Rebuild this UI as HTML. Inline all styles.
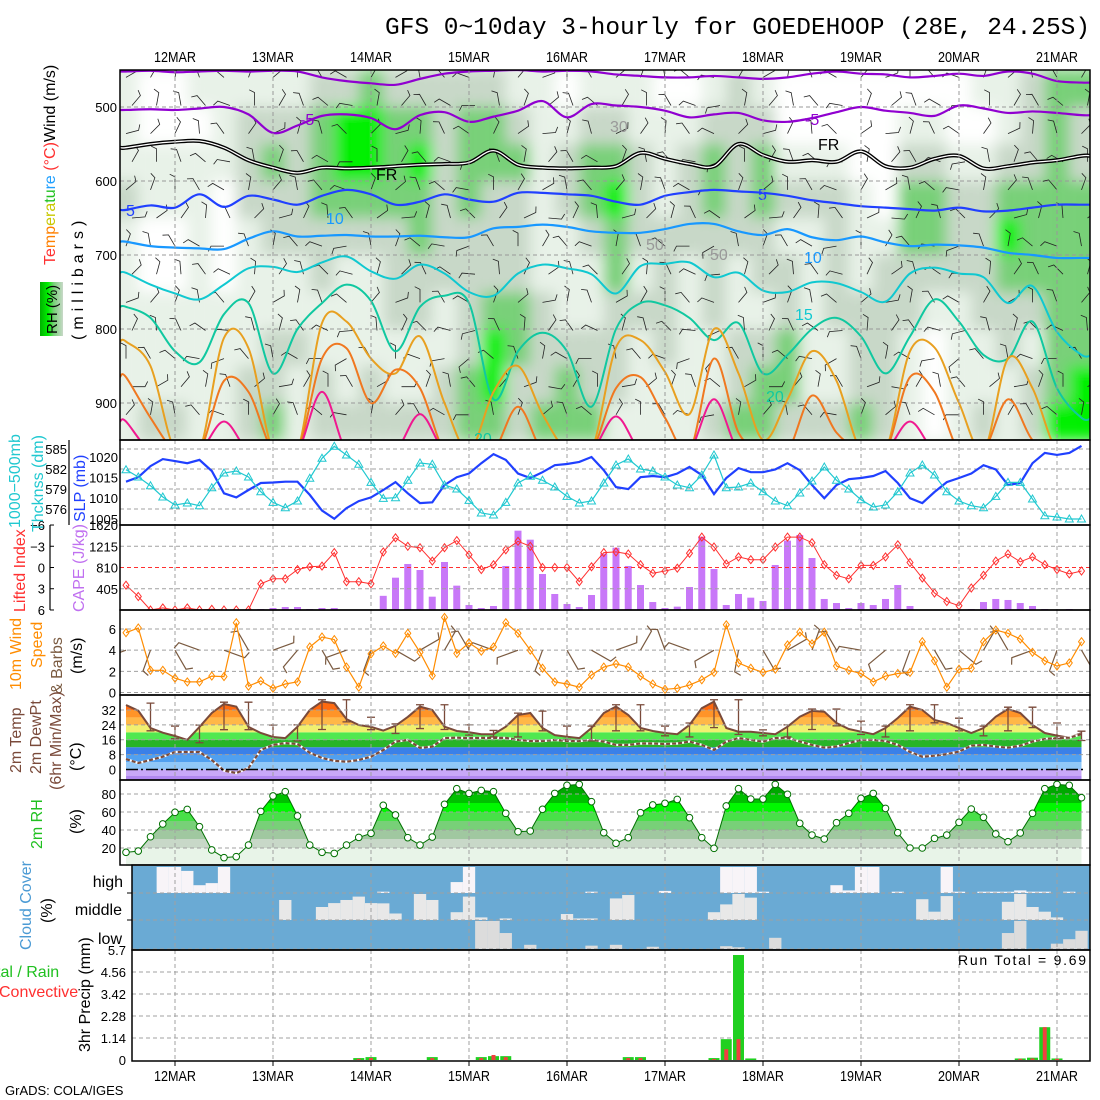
<!DOCTYPE html>
<html><head><meta charset="utf-8"><style>
html,body{margin:0;padding:0;background:#fff;}
svg{display:block;font-family:"Liberation Sans",sans-serif;}
</style></head><body>
<svg id="chart" width="1100" height="1100" viewBox="0 0 1100 1100" xmlns="http://www.w3.org/2000/svg">
<defs>
<clipPath id="clipUp"><rect x="120" y="70" width="970" height="370"/></clipPath>
<clipPath id="clipCape"><rect x="120" y="525" width="970" height="85"/></clipPath>
<clipPath id="clipWind"><rect x="120" y="610" width="970" height="85"/></clipPath>
<clipPath id="clipT"><rect x="120" y="695" width="970" height="85"/></clipPath>
<filter id="blur" x="-5%" y="-5%" width="110%" height="110%"><feGaussianBlur stdDeviation="7"/></filter>
<linearGradient id="rhLeg" x1="0" x2="1" y1="0" y2="0">
<stop offset="0" stop-color="#00b000"/><stop offset="0.35" stop-color="#00f000"/><stop offset="0.6" stop-color="#78d078"/><stop offset="1" stop-color="#c8d8c8"/></linearGradient>
</defs>
<text x="385" y="34" font-family="Liberation Mono, monospace" font-size="24" textLength="705" lengthAdjust="spacingAndGlyphs">GFS 0~10day 3-hourly for GOEDEHOOP (28E, 24.25S)</text>
<g id="gUp"></g>
<g id="gMain"></g>
<g id="gLab" font-size="15">
<g>
<text transform="translate(55,265) rotate(-90)" font-size="16"><tspan fill="#ff3030">Te</tspan><tspan fill="#ff8000">mp</tspan><tspan fill="#c8c800">era</tspan><tspan fill="#20c020">tu</tspan><tspan fill="#20a0ff">re</tspan><tspan fill="#ff3030"> (°C)</tspan><tspan fill="#000">Wind (m/s)</tspan></text>
<text transform="translate(83,340) rotate(-90)" font-size="16" letter-spacing="5">(millibars)</text>
<rect x="40" y="282" width="23" height="54" fill="url(#rhLeg)"/>
<text transform="translate(57,334) rotate(-90)" font-size="15">RH (%)</text>
</g>
<text transform="translate(20,528) rotate(-90)" fill="#20c8d0" font-size="16">1000−500mb</text>
<text transform="translate(43,532) rotate(-90)" fill="#20c8d0" font-size="16">Thcknss (dm)</text>
<text transform="translate(85,522) rotate(-90)" fill="#2040ff" font-size="16">SLP (mb)</text>
<line x1="69" y1="440" x2="69" y2="525" stroke="#000" stroke-width="1.2"/>
<text transform="translate(25,612) rotate(-90)" fill="#ff3030" font-size="16">Lifted Index</text>
<line x1="50" y1="525" x2="50" y2="610" stroke="#000" stroke-width="1.2"/>
<text transform="translate(84,612) rotate(-90)" fill="#c070f0" font-size="16">CAPE (J/kg)</text>
<text transform="translate(21,690) rotate(-90)" fill="#ff8c00" font-size="16">10m Wind</text>
<text transform="translate(42,668) rotate(-90)" fill="#ff8c00" font-size="16">Speed</text>
<text transform="translate(62,694) rotate(-90)" fill="#7a5a40" font-size="16">&amp; Barbs</text>
<text transform="translate(82,674) rotate(-90)" font-size="16">(m/s)</text>
<text transform="translate(21,773) rotate(-90)" fill="#7a4a3a" font-size="16">2m Temp</text>
<text transform="translate(41,774) rotate(-90)" fill="#7a4a3a" font-size="16">2m DewPt</text>
<text transform="translate(61,790) rotate(-90)" fill="#7a4a3a" font-size="16">(6hr Min/Max)</text>
<text transform="translate(81,771) rotate(-90)" font-size="16">(°C)</text>
<text transform="translate(42,849) rotate(-90)" fill="#20c020" font-size="16">2m RH</text>
<text transform="translate(81,834) rotate(-90)" font-size="16">(%)</text>
<text transform="translate(31,950) rotate(-90)" fill="#4a9ad4" font-size="16">Cloud Cover</text>
<text transform="translate(52,923) rotate(-90)" font-size="16">(%)</text>
<text x="123" y="887" text-anchor="end" font-size="16">high</text>
<text x="122" y="915" text-anchor="end" font-size="16">middle</text>
<text x="122" y="944" text-anchor="end" font-size="16">low</text>
<text x="-4" y="977" fill="#20c020" font-size="16">tal / Rain</text>
<text x="-1" y="997" fill="#ff3030" font-size="16">Convective</text>
<text transform="translate(90,1052) rotate(-90)" font-size="16">3hr Precip (mm)</text>
<text x="958" y="965" font-size="14" textLength="128">Run Total = 9.69</text>
<text x="5" y="1095" font-size="13">GrADS: COLA/IGES</text>
</g>
</svg>
<script>
// ---------- data (3-hourly, 79 steps) ----------
const dayLabels = ["12MAR","13MAR","14MAR","15MAR","16MAR","17MAR","18MAR","19MAR","20MAR","21MAR"];
const slp = [1014,1015.1,1017.8,1019.5,1019,1018.5,1019.3,1016.6,1011.2,1010.2,1012,1013.7,1013.8,1014,1014,1010.8,1007,1005,1007.6,1009.3,1010.2,1012,1013.9,1011.2,1008.8,1009,1013.2,1015.1,1016,1018.5,1020.7,1019.3,1016,1014.9,1016.3,1018,1018.3,1018.8,1020,1016.8,1012.7,1012.2,1015.1,1015.4,1015.1,1016,1017.6,1015.6,1011,1014.9,1017.3,1016.3,1016.3,1017,1018.5,1016.8,1013.2,1010,1013.2,1014.6,1014.9,1015.4,1016.6,1013.7,1010,1008.8,1011.5,1013.9,1014.9,1016,1018,1017,1013.2,1013.7,1018.5,1021,1020.5,1021,1022.7];
const thick = [581.9,580.8,579.5,577.8,576.6,576.9,576.5,579.2,581.4,581.7,580.8,578.6,577,576.2,577.2,580.6,583.6,585.4,584.1,582.7,580,577.6,577.7,580.3,582.9,582.7,579.6,579,577.3,575.4,575.1,577,579.9,580.9,580.3,579.3,577.9,576.9,577.2,579.9,582.6,583.5,582,581.7,580.8,579.6,579.2,581.1,584.1,579.2,579.3,579.9,578.6,577.2,576.5,578.4,580.2,582.3,580.3,579,577.4,576.3,576.6,578.6,581.4,582.6,581.1,578.6,577.2,576.5,576.2,577.9,580,580,577.5,575,574.8,574.5,574.5];
const liftedIndex = [2.5,4.1,7,5.7,7,5.7,7,5.9,7,7,7,2.3,1.6,1.6,0.3,-0.1,-0.2,-2.1,2,2,2.3,-2.2,-4.2,-3,-2.8,-0.9,-2.8,-3.8,-1.8,0.3,-0.4,-2.5,-3.7,-3,0,0,0,2,-0.1,-2.1,-2.2,-1.9,-0.4,0.8,0.5,0.1,-2,-4.3,-2.9,-0.5,-1.5,-1.1,-1.1,-2.9,-4.3,-4.3,-3.5,-0.4,1.1,1.6,-0.3,-0.3,-1.5,-3.2,-0.7,1.5,3.6,4.8,5.4,2.9,1.1,-0.9,-1.9,-0.8,-1.5,-0.4,0.3,0.9,0.5];
const cape = [0,0,0,0,0,0,0,0,0,0,0,19,38,57,57,19,38,38,0,0,0,270,616,877,762,254,915,464,95,38,76,839,1512,1340,686,305,114,57,286,1074,1188,839,476,152,38,64,438,1398,781,95,305,235,172,858,1322,1430,991,210,133,38,133,95,210,476,76,0,0,0,0,19,152,210,191,133,76,19,0,19,0];
const windSpeed = [5.65,6.1,2.1,2.1,1.35,1,1,1.55,1.5,6.6,0.6,1.1,0.4,0.8,1,4.3,5.25,5,2.4,0.5,3.65,4.4,3.7,5.6,3.8,1.6,7.1,3.7,4.7,3.9,4.3,6.6,5.6,4,2.3,1,0.8,0.5,1.65,2.4,2.7,2.4,1.55,0.8,0.3,0.4,0.7,1.2,1.9,6.4,2.8,2.3,1.9,2.2,4.5,5.7,4.6,5.7,2.5,2.1,1.8,1,1.55,1.8,1.9,4.8,3,0.5,2.2,2.3,4.8,5.9,5.6,5.05,3.8,3,2.5,2.8,4.8];
const windDir10 = [200,250,300,160,340,120,20,230,300,200,250,330,30,60,120,160,200,250,300,330,20,60,110,160,210,260,300,30,70,120,170,220,250,300,320,60,120,200,250,300];
const temp2m = [34.7,31.6,22.3,19.8,18,15.9,22.9,30.4,35.2,33.8,22.9,19.6,17.5,16.9,23,32,36.5,35.7,27.1,23.9,22.9,20.9,23.5,28.3,33.8,32,23,20.7,20,19,19,23,29.3,30.4,22.3,18.5,17.6,16.9,22.3,30.4,33.8,29.3,22.3,20.7,19.6,19,24,33,36.5,22.3,20.3,20.3,19.6,19,23,28.4,31.5,31.1,25,21.8,20.3,19,22.3,27.7,33.8,32,26.6,25,22.3,19.6,22.3,28.4,32.5,30.4,24,19.6,18.2,17.1,19.6];
const dewpt2m = [5.6,3.5,5.1,6.9,9.4,9.4,9.4,5.1,-0.6,-1.9,0.8,10.5,13.2,14.2,13.7,9,6.2,4.7,4.2,5.1,6.9,10.5,15,15.9,11.6,12.3,16.9,17.1,16.9,17,17,17,15.9,15.3,15.3,15.9,15.3,15.3,15.9,15,13.2,13.2,14,14,13.7,14,15,13.2,10.5,15,16.9,15.9,15,16.9,17.1,15,13.2,11.7,12.3,14.2,15.9,15.9,15.3,13.2,9.4,6.9,7.4,8.3,9.6,12.8,13.2,12.3,11.7,12.8,15,16.4,16.9,17.1,19];
const rh2m = [15.2,16.6,32.5,46.7,59.6,62.9,43.7,17.8,9.3,10.4,23.3,60.7,77.8,82.6,55.6,23.3,15.2,14,23.3,31.8,36.3,67.4,56.7,31.5,23.3,32.2,68.5,85.9,80.7,84,82.6,58.5,38.1,38.9,63,80.7,89.6,90.7,71.5,37,25.2,31.5,59.2,67.8,69.6,74,53.7,31.5,19.6,66.7,85.9,74.4,74.4,90.7,79.6,47.4,34.4,30,48.1,58.5,75.2,80.7,64,37,20,20,30.7,34.4,48.5,63.3,54.1,35.6,27,36.7,58.5,85.9,90.7,89.6,75.9];
const cloudHigh = [0,0,0,1,1,.85,.3,.38,1,0,0,0,0,0,0,0,0,0,0,0,0,.05,0,0,0,0,0,.42,1,0,0,0,0,0,0,0,0,0,.05,0,0,0,0,0,.08,0,0,0,0,1,1,1,.05,0,0,0,0,0,.3,.1,1,1,0,.05,0,0,0,1,.05,0,.05,.05,.05,.1,.05,.05,0,.05,0];
const cloudMid = [0,0,0,0,0,0,0,0,0,0,0,0,0,.77,0,0,.5,.65,.77,.9,.65,.64,.25,0,1,.77,0,.3,.9,.1,0,.06,0,0,0,0,.23,.06,.06,0,.83,.96,0,0,0,0,0,0,.3,.6,1,.86,0,0,0,0,0,0,0,0,0,0,0,0,0,.8,.32,.92,0,0,0,0,.7,1,.5,.32,.1,0,0];
const cloudLow = [0,0,0,0,0,0,0,0,0,0,0,0,0,0,0,0,0,0,0,0,0,0,0,0,0,0,0,0,0,1,1,.57,0,.15,0,0,0,0,.12,0,.15,0,0,.08,0,0,0,0,0,.1,.06,0,0,.4,0,0,0,0,0,0,0,0,0,0,0,0,0,0,0,0,0,0,.57,1,0,0,.19,.35,.65];
const precipTotal = [0,0,0,0,0,0,0,0,0,0,0,0,0,0,0,0,0,0,0,.1,.15,0,0,0,0,.15,0,0,0,.15,.2,.2,0,0,0,0,0,0,0,0,0,.15,.15,0,0,0,0,0,.1,1.08,5.44,.08,0,0,0,0,0,0,0,0,0,0,0,0,0,0,0,0,0,0,0,0,0,.08,.12,1.7,.08,0,0];
const precipConv = [0,0,0,0,0,0,0,0,0,0,0,0,0,0,0,0,0,0,0,.06,.1,0,0,0,0,.1,0,0,0,.1,.26,.15,0,0,0,0,0,0,0,0,0,.1,.1,0,0,0,0,0,.05,.56,1.08,0,0,0,0,0,0,0,0,0,0,0,0,0,0,0,0,0,0,0,0,0,0,.06,.08,1.7,.06,0,0];
// upper-air (every 6 h, 40 columns)
const rhLevels = [475,525,575,625,675,725,775,825,875,925];
const rhGrid = [
[1,1,1,2,1,1,1,1,1,1],[0,0,1,1,0,0,1,1,1,2],[0,0,1,1,0,0,1,1,1,2],[1,0,1,1,1,1,1,1,1,1],[1,1,1,0,0,0,1,1,1,1],
[1,2,2,2,1,1,1,1,2,2],[1,2,3,2,2,1,1,2,2,3],[1,2,2,2,2,1,1,2,1,1],[2,3,3,3,2,2,1,1,2,2],[2,4,4,3,2,1,1,1,1,2],
[3,4,4,3,2,1,1,1,2,2],[2,3,3,3,2,2,2,1,1,2],[2,3,4,3,3,2,2,1,1,2],[2,2,2,2,2,2,1,1,2,2],[2,3,3,3,2,2,2,2,3,3],
[2,3,3,2,2,2,3,4,4,3],[1,2,3,2,2,2,3,3,2,2],[1,1,1,1,1,1,2,2,2,3],[0,1,2,2,1,1,1,2,3,3],[1,2,3,3,2,1,1,2,2,3],
[1,2,3,4,3,3,2,2,2,1],[1,1,2,2,2,1,2,1,1,1],[0,1,1,1,2,2,2,2,1,1],[0,1,2,2,2,1,1,1,1,1],[1,2,3,3,2,2,2,1,1,2],
[2,2,2,2,2,1,1,2,2,3],[1,2,3,3,2,2,1,2,3,3],[0,0,1,2,1,2,2,3,3,2],[0,0,1,2,1,1,1,1,1,2],[0,0,1,2,2,2,2,1,1,2],
[0,0,0,1,1,1,2,2,2,3],[0,0,0,0,1,2,2,2,2,2],[0,1,2,3,3,2,2,1,1,1],[0,1,2,3,3,2,1,0,0,0],[0,0,1,2,2,2,1,1,1,1],
[1,0,1,2,2,2,2,1,1,2],[1,1,2,3,4,3,2,2,1,1],[2,2,2,3,3,3,2,1,2,2],[3,3,3,3,3,3,3,3,3,4],[3,2,2,3,3,3,3,3,4,4]];
const isoM10 = [452,451,453,452,451,452,451,452,460,465,468,470,462,455,452,451,450,452,451,452,456,458,460,460,458,460,462,460,455,452,455,456,460,458,455,458,452,455,465,467];
const isoM5 = [504,503,504,502,500,510,535,525,512,510,515,530,511,507,520,513,505,492,514,496,498,500,505,514,510,508,518,520,515,507,500,505,508,512,498,502,508,506,508,511];
const isoFR = [555,550,547,546,555,572,582,589,582,583,582,580,578,577,575,559,578,582,583,582,580,562,570,577,580,550,565,574,572,574,560,580,582,570,566,583,580,575,572,566];
const iso5 = [639,633,636,618,635,620,625,632,620,612,618,632,628,618,625,628,616,616,618,620,628,632,620,615,612,614,616,620,626,630,634,636,638,640,636,641,640,636,632,632];
const iso10 = [682,688,690,691,692,678,668,675,674,673,675,675,674,676,676,664,662,659,662,668,670,670,665,658,658,668,673,665,676,680,675,683,688,686,687,690,697,700,704,704];
const iso15 = [724,740,752,760,740,718,716,723,710,702,722,732,713,725,750,755,725,713,718,726,752,715,712,710,730,724,748,750,737,738,750,763,725,717,725,730,765,742,804,835];
const iso20 = [770,785,830,845,780,765,860,800,765,740,762,830,770,755,765,895,830,805,830,905,800,765,768,785,815,792,860,835,800,785,810,860,810,760,790,835,840,790,880,920];
const iso25 = [817,850,965,965,812,826,965,965,792,790,840,860,810,900,965,885,850,915,965,965,825,815,858,915,800,860,950,895,830,870,965,965,830,825,900,965,840,880,965,965];
const iso30 = [865,920,965,965,870,885,965,965,840,826,900,855,880,965,965,965,905,965,965,965,880,865,920,965,840,940,965,965,890,940,965,965,865,885,965,965,895,950,965,965];
const iso35 = [925,965,965,965,925,965,965,965,885,965,965,965,915,965,965,965,965,965,965,965,918,965,965,965,895,965,965,965,965,965,965,965,925,965,965,965,965,965,965,965];
const barbColDir = [30,60,80,110,140,70,40,90,120,150,60,30,100,130,160,80,50,20,90,120,40,70,100,140,170,60,30,80,110,150,50,20,90,130,160,70,40,100,120,60];
const barbRowDir = [0,20,-15,30,10,-25,40,15,-10,35,60,-30,20];

// ---------- scales ----------
const NS = "http://www.w3.org/2000/svg";
const X = i => 126 + 12.25 * i;
const XK = k => 126 + 24.5 * k;
const dayX = d => 175 + 98 * d;
const yP = p => 70 + (p - 450) * 0.74;
const ySLP = v => 457 + (1020 - v) * 4.12;
const yTh = v => 449 + (585 - v) * 6.67;
const yCape = v => 610 - v * 85 / 1620;
const yLI = v => 567.5 + Math.min(v, 6) * 7.08;
const yW = v => 692.5 - v * 10.58;
const yT = v => 769.5 - v * 1.86;
const yRH = v => 866 - v * 0.9;
const yPr = v => 1060 - v * 19.3;

function mk(tag, attrs, parent) {
  const el = document.createElementNS(NS, tag);
  for (const k in attrs) el.setAttribute(k, attrs[k]);
  parent.appendChild(el);
  return el;
}
function smooth(pts) {
  let d = "M" + pts[0][0] + "," + pts[0][1];
  for (let i = 0; i < pts.length - 1; i++) {
    const p0 = pts[Math.max(0, i - 1)], p1 = pts[i], p2 = pts[i + 1], p3 = pts[Math.min(pts.length - 1, i + 2)];
    d += " C" + (p1[0] + (p2[0] - p0[0]) / 6) + "," + (p1[1] + (p2[1] - p0[1]) / 6) + " " + (p2[0] - (p3[0] - p1[0]) / 6) + "," + (p2[1] - (p3[1] - p1[1]) / 6) + " " + p2[0] + "," + p2[1];
  }
  return d;
}
const poly = arr => arr.map(p => p[0].toFixed(1) + "," + p[1].toFixed(1)).join(" ");
const gUp = document.getElementById("gUp");
const gM = document.getElementById("gMain");

// ---------- upper-air panel ----------
const upClip = mk("g", {"clip-path": "url(#clipUp)"}, gUp);
const upBg = mk("rect", {x: 120, y: 70, width: 970, height: 370, fill: "#e8f2e8"}, upClip);


const rhColors = ["#ffffff", "#e8f2e8", "#c8d8c8", "#78d078", "#00f000", "#00b000"];
const heat = mk("g", {filter: "url(#blur)"}, upClip);


rhGrid.forEach((col, k) => {
  col.forEach((v, r) => {
    const c = mk("rect", {x: (XK(k) - 12.25 - (k === 0 ? 10 : 0)).toFixed(1), y: yP(rhLevels[r] - 25).toFixed(1), width: 24.6 + (k === 0 ? 10 : 0) + (k === 39 ? 12 : 0), height: 37.2, fill: rhColors[v]}, heat);
    
    
  });
});
// grid
[500, 600, 700, 800, 900].forEach(p => {
  const l = mk("line", {x1: 120, x2: 1090, y1: yP(p), y2: yP(p), stroke: "#999", "stroke-dasharray": "4,3"}, upClip);
  
  
});
// barbs
const barbG = mk("g", {stroke: "#222", "stroke-width": 0.8, fill: "none"}, upClip);


barbRowDir.forEach((rd, r) => {
  barbColDir.forEach((cd, k) => {
    const x = XK(k) + (r % 2) * 6, y = yP(460 + r * 38);
    const a = (cd + rd) * Math.PI / 180;
    const x2 = x + 13 * Math.cos(a), y2 = y - 13 * Math.sin(a);
    const b = a + 1.1;
    const p = mk("path", {d: "M" + x.toFixed(1) + "," + y.toFixed(1) + " L" + x2.toFixed(1) + "," + y2.toFixed(1) + " l" + (6 * Math.cos(b)).toFixed(1) + "," + (-6 * Math.sin(b)).toFixed(1)}, barbG);
    
    
  });
});
// isotherms
function iso(arr, color, w, name) {
  const pts = arr.map((p, k) => [XK(k), yP(p)]);
  pts.unshift([120, pts[0][1]]);
  pts.push([1092, pts[pts.length - 1][1]]);
  const d = smooth(pts);
  if (name === "isotherm-freezing") {
    const a = mk("path", {d: d, fill: "none", stroke: "#000", "stroke-width": 4}, upClip);
    
    
    const b = mk("path", {d: d, fill: "none", stroke: "#fff", "stroke-width": 1.3}, upClip);
    
    
    return;
  }
  const e = mk("path", {d: d, fill: "none", stroke: color, "stroke-width": w}, upClip);
  
  
}
iso(isoM10, "#9000d0", 2.2, "isotherm-minus10");
iso(isoM5, "#9000d0", 2.2, "isotherm-minus5");
iso(isoFR, "#000", 2, "isotherm-freezing");
iso(iso5, "#2040ff", 2.2, "isotherm-5");
iso(iso10, "#1898ff", 2.2, "isotherm-10");
iso(iso15, "#10c8d0", 2, "isotherm-15");
iso(iso20, "#10c8a0", 2, "isotherm-20");
iso(iso25, "#e8a020", 2, "isotherm-25");
iso(iso30, "#f07820", 2, "isotherm-30");
iso(iso35, "#f01890", 2, "isotherm-35");
[["-5", 300, 125, "#9000d0"], ["-5", 805, 125, "#9000d0"], ["FR", 376, 180, "#000"], ["FR", 818, 150, "#000"], ["5", 126, 216, "#2040ff"], ["5", 758, 200, "#2040ff"], ["10", 326, 224, "#1898ff"], ["10", 804, 263, "#1898ff"], ["15", 795, 320, "#10c8d0"], ["20", 474, 444, "#10c8a0"], ["20", 766, 402, "#10c8a0"], ["30", 610, 132, "#999"], ["50", 646, 250, "#999"], ["50", 710, 260, "#999"]].forEach(t => {
  const e = mk("text", {x: t[1], y: t[2], fill: t[3], "font-size": 16}, upClip);
  e.textContent = t[0];
  
  
});
// pressure labels
[500, 600, 700, 800, 900].forEach(p => {
  const t = mk("text", {x: 117, y: yP(p) + 5, "text-anchor": "end", "font-size": 13}, gUp);
  t.textContent = p;
  
  
});

// ---------- generic helpers for panels ----------
function hgrid(ys, x1, color) {
  ys.forEach(y => {
    const l = mk("line", {x1: x1, x2: 1090, y1: y, y2: y, stroke: color || "#a0a0a0", "stroke-dasharray": "4,3"}, gM);
    
    
  });
}
function vgrid(y1, y2, x1) {
  dayLabels.forEach((d, j) => {
    const l = mk("line", {x1: dayX(j), x2: dayX(j), y1: y1, y2: y2, stroke: "#a0a0a0", "stroke-dasharray": "4,3"}, gM);
    
    
  });
}
function ticks(vals, yf, x, fmt, color) {
  vals.forEach(v => {
    const t = mk("text", {x: x, y: yf(v) + 5, "text-anchor": "end", "font-size": 13, fill: color || "#000"}, gM);
    t.textContent = fmt ? fmt(v) : v;
    
    
  });
}
function line(vals, xf, yf, color, w, name) {
  const e = mk("polyline", {points: poly(vals.map((v, i) => [xf(i), yf(v)])), fill: "none", stroke: color, "stroke-width": w}, gM);
  
  
  return e;
}

// upper panel vertical grid & frame
dayLabels.forEach((d, j) => {
  const l = mk("line", {x1: dayX(j), x2: dayX(j), y1: 70, y2: 440, stroke: "#999", "stroke-dasharray": "4,3"}, upClip);
  
  
});

// ---------- SLP / thickness ----------
hgrid([585, 582, 579, 576].map(yTh), 120);
vgrid(440, 525);
ticks([585, 582, 579, 576], yTh, 67);
ticks([1020, 1015, 1010, 1005], ySLP, 118);
line(slp, X, ySLP, "#2040ff", 2.2, "slp-line");
line(thick, X, yTh, "#20c8d0", 1.2, "thickness-line");
thick.forEach((v, i) => {
  const x = X(i), y = yTh(v);
  const m = mk("polygon", {points: poly([[x, y - 4], [x - 4, y + 3], [x + 4, y + 3]]), fill: "none", stroke: "#20c8d0", "stroke-width": 1}, gM);
  
  
});

// ---------- CAPE / LI ----------
const capeG = mk("g", {"clip-path": "url(#clipCape)"}, gM);


cape.forEach((v, i) => {
  if (v <= 0) return;
  const b = mk("rect", {x: X(i) - 3.5, y: yCape(v), width: 7, height: 610 - yCape(v), fill: "#c878f8"}, capeG);
  
  
});
hgrid([405, 1215].map(yCape), 120);
hgrid([yCape(810)], 120, "#ff3030");
vgrid(525, 610);
ticks([1620, 1215, 810, 405], yCape, 118);
ticks([-6, -3, 0, 3, 6], v => 567.5 + v * 7.08, 45, v => v < 0 ? "−" + (-v) : v);
[-6, -3, 0, 3, 6].forEach(v => {
  const t = mk("line", {x1: 50, x2: 54, y1: 567.5 + v * 7.08, y2: 567.5 + v * 7.08, stroke: "#000"}, gM);
  
  
});
const liL = mk("polyline", {points: poly(liftedIndex.map((v, i) => [X(i), yLI(v)])), fill: "none", stroke: "#ff3030", "stroke-width": 1}, capeG);


liftedIndex.forEach((v, i) => {
  const x = X(i), y = yLI(v);
  const m = mk("polygon", {points: poly([[x, y - 4], [x + 3, y], [x, y + 4], [x - 3, y]]), fill: "none", stroke: "#ff3030"}, capeG);
  
  
});

// ---------- 10m wind ----------
hgrid([0, 2, 4, 6].map(yW), 120);
vgrid(610, 695);
ticks([0, 2, 4, 6], yW, 116);
const wG = mk("g", {"clip-path": "url(#clipWind)"}, gM);


windDir10.forEach((dg, k) => {
  const x = X(2 * k), y = yW(4), a = dg * Math.PI / 180;
  const x2 = x + 22 * Math.cos(a), y2 = y - 22 * Math.sin(a);
  const p = mk("path", {d: "M" + x.toFixed(1) + "," + y.toFixed(1) + " L" + x2.toFixed(1) + "," + y2.toFixed(1) + " l" + (7 * Math.cos(a + 1.2)).toFixed(1) + "," + (-7 * Math.sin(a + 1.2)).toFixed(1), stroke: "#7a5a40", fill: "none", "stroke-width": 1.2}, wG);
  
  
});
const wl = mk("polyline", {points: poly(windSpeed.map((v, i) => [X(i), yW(v)])), fill: "none", stroke: "#ff8c00", "stroke-width": 1.2}, wG);


windSpeed.forEach((v, i) => {
  const x = X(i), y = yW(v);
  const m = mk("polygon", {points: poly([[x, y - 4], [x + 3, y], [x, y + 4], [x - 3, y]]), fill: "none", stroke: "#ff8c00"}, wG);
  
  
});

// ---------- 2m temperature ----------
const tG = mk("g", {"clip-path": "url(#clipT)"}, gM);


const cpT = mk("clipPath", {id: "underT"}, document.querySelector("defs"));
mk("polygon", {points: poly([[X(0), 781]].concat(temp2m.map((v, i) => [X(i), yT(v)])).concat([[X(78), 781]]))}, cpT);
const bandG = mk("g", {"clip-path": "url(#underT)"}, tG);


const tBands = [[-10, 0, "#c8a8f8"], [0, 4, "#90c8f8"], [4, 8, "#50a0f0"], [8, 12, "#3a80e8"], [12, 16, "#28b428"], [16, 20, "#50e850"], [20, 24, "#f0f070"], [24, 28, "#ffb848"], [28, 32, "#ff9428"], [32, 36, "#ff6a10"], [36, 45, "#e83000"]];
tBands.forEach(b => {
  const r = mk("rect", {x: 120, width: 970, y: yT(b[1]), height: yT(b[0]) - yT(b[1]), fill: b[2]}, bandG);
  
  
});
const pb = mk("rect", {x: 120, y: 776, width: 970, height: 4, fill: "#b088f0"}, bandG);


hgrid([8, 16, 24, 32].map(yT), 120);
const zl = mk("line", {x1: 126, x2: 1083, y1: yT(0), y2: yT(0), stroke: "#000", "stroke-width": 1.5, "stroke-dasharray": "12,3,2,3"}, gM);


vgrid(695, 780);
ticks([0, 8, 16, 24, 32], yT, 116);
const tl = mk("polyline", {points: poly(temp2m.map((v, i) => [X(i), yT(v)])), fill: "none", stroke: "#7a4a3a", "stroke-width": 2}, tG);


const dl = mk("polyline", {points: poly(dewpt2m.map((v, i) => [X(i), yT(v)])), fill: "none", stroke: "#fff", "stroke-width": 2.4}, tG);


const dl2 = mk("polyline", {points: poly(dewpt2m.map((v, i) => [X(i), yT(v)])), fill: "none", stroke: "#7a4a3a", "stroke-width": 2.2, "stroke-dasharray": "4,2"}, tG);


for (let i = 2; i < 79; i += 2) {
  const w = temp2m.slice(i - 2, i + 1);
  const hi = Math.max(...w) + 1, lo = Math.min(...w) - 1.5;
  const e = mk("path", {d: "M" + (X(i) - 4) + "," + yT(hi) + " h8 M" + X(i) + "," + yT(hi) + " V" + yT(lo) + " M" + (X(i) - 4) + "," + yT(lo) + " h8", stroke: "#7a4a3a", fill: "none", "stroke-width": 1.3}, tG);
  
  
}

// ---------- 2m RH ----------
const cpR = mk("clipPath", {id: "underR"}, document.querySelector("defs"));
mk("polygon", {points: poly([[X(0), 866]].concat(rh2m.map((v, i) => [X(i), yRH(v)])).concat([[X(78), 866]]))}, cpR);
const rG = mk("g", {"clip-path": "url(#underR)"}, gM);


[[0, 20, "#e8f4e8"], [20, 30, "#c8d8c8"], [30, 40, "#a0c8a0"], [40, 50, "#78d078"], [50, 60, "#48e048"], [60, 70, "#00f800"], [70, 80, "#00c000"], [80, 90, "#00a800"], [90, 100, "#008c00"]].forEach(b => {
  const r = mk("rect", {x: 120, width: 970, y: yRH(b[1]), height: yRH(b[0]) - yRH(b[1]), fill: b[2]}, rG);
  
  
});
hgrid([20, 40, 60, 80].map(yRH), 120);
vgrid(780, 865);
ticks([20, 40, 60, 80], yRH, 116);
line(rh2m, X, yRH, "#007000", 1, "rh-line");
rh2m.forEach((v, i) => {
  const c = mk("circle", {cx: X(i), cy: yRH(v), r: 3.3, fill: "#fff", stroke: "#007000"}, gM);
  
  
});

// ---------- cloud cover ----------
const cbg = mk("rect", {x: 132, y: 866, width: 958, height: 84, fill: "#6aaad4"}, gM);


[[cloudHigh, 867, 893, "#f8f4f8", "cloud-high-bar"], [cloudMid, 894, 920, "#e8e8e8", "cloud-mid-bar"], [cloudLow, 921, 949, "#dcdcdc", "cloud-low-bar"]].forEach(layer => {
  layer[0].forEach((v, i) => {
    if (v <= 0) return;
    const h = (layer[2] - layer[1]) * v;
    const r = mk("rect", {x: Math.max(132, X(i) - 6.125), y: layer[2] - h, width: 12.3, height: h, fill: layer[3]}, gM);
    
    
  });
});
hgrid([893, 920], 132);
vgrid(866, 950);
[893, 920].forEach(y => {
  const t = mk("line", {x1: 127, x2: 132, y1: y, y2: y, stroke: "#000"}, gM);
  
  
});

// ---------- precipitation ----------
hgrid([1.14, 2.28, 3.42, 4.56].map(yPr), 132);
hgrid([949], 132);
vgrid(950, 1060);
ticks([0, 1.14, 2.28, 3.42, 4.56, 5.7], yPr, 126);
precipTotal.forEach((v, i) => {
  if (v <= 0) return;
  const r = mk("rect", {x: X(i) - 5.5, y: yPr(v), width: 11, height: 1060 - yPr(v), fill: "#20d020"}, gM);
  
  
});
precipConv.forEach((v, i) => {
  if (v <= 0) return;
  const r = mk("rect", {x: X(i) - 2, y: yPr(v), width: 4, height: 1060 - yPr(v), fill: "#f04040"}, gM);
  
  
});

// ---------- frames ----------
[[120, 70, 440], [120, 440, 525], [120, 525, 610], [120, 610, 695], [120, 695, 780], [120, 780, 865], [132, 865, 950], [132, 950, 1061]].forEach(f => {
  const r = mk("rect", {x: f[0], y: f[1], width: 1090 - f[0], height: f[2] - f[1], fill: "none", stroke: "#000", "stroke-width": 1.5}, gM);
  
  
});
dayLabels.forEach((d, j) => {
  const t1 = mk("text", {x: dayX(j) - 21, y: 62, "font-size": 15, textLength: 42, lengthAdjust: "spacingAndGlyphs"}, gM);
  t1.textContent = d;
  
  
  const t2 = mk("text", {x: dayX(j) - 21, y: 1081, "font-size": 15, textLength: 42, lengthAdjust: "spacingAndGlyphs"}, gM);
  t2.textContent = d;
  
  
  const tk = mk("line", {x1: dayX(j), x2: dayX(j), y1: 1061, y2: 1066, stroke: "#000"}, gM);
  
  
});
</script>
</body></html>
